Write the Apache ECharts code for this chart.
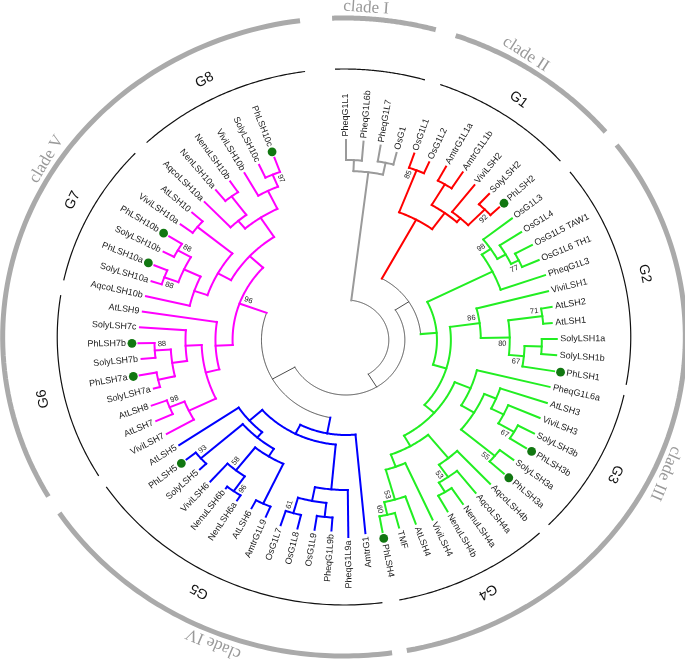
<!DOCTYPE html>
<html><head><meta charset="utf-8">
<script src="https://cdn.jsdelivr.net/npm/echarts@6/dist/echarts.min.js"></script>
<style>html,body{margin:0;padding:0;background:#fff}#c{width:685px;height:661px}</style>
</head><body><div id="c"></div>
<script>
// ---- leaves (clockwise from top) ----
const leafNames = ['PheqG1L1','PheqG1L6b','PheqG1L7','OsG1','OsG1L1','OsG1L2','AmtrG1L1a','AmtrG1L1b','ViviLSH2','SolyLSH2','PhLSH2','OsG1L3','OsG1L4','OsG1L5 TAW1','OsG1L6 TH1','PheqG1L3','ViviLSH1','AtLSH2','AtLSH1','SolyLSH1a','SolyLSH1b','PhLSH1','PheqG1L6a','AtLSH3','ViviLSH3','SolyLSH3b','PhLSH3b','SolyLSH3a','PhLSH3a','AqcoLSH4b','AqcoLSH4a','NenuLSH4a','NenuLSH4b','ViviLSH4','AtLSH4','TMF','PhLSH4','AmtrG1','PheqG1L9a','PheqG1L9b','OsG1L9','OsG1L8','OsG1L7','AmtrG1L9','AtLSH6','NenLSH6a','NenuLSH6b','ViviLSH6','SolyLSH5','PhLSH5','AtLSH5','ViviLSH7','AtLSH7','AtLSH8','SolyLSH7a','PhLSH7a','SolyLSH7b','PhLSH7b','SolyLSH7c','AtLSH9','AqcoLSH10b','SolyLSH10a','PhLSH10a','SolyLSH10b','PhLSH10b','ViviLSH10a','AtLSH10','AqcoLSH10a','NenLSH10a','NenuLSH10b','ViviLSH10b','SolyLSH10c','PhLSH10c'];
// tip distance from the centre (tree units)
const leafTip = [200,199,197,193,197,194,197,200,196,198,195, 197,196,198,197,197,195,195,193,197,197,197, 196,198,197,199,200,197,199,197,195,197,196,197,195,194,195, 194,197,191,192,194,195,192,190,190,186,190,188,191,188, 192,195,193,186,196,192,194,193,192, 192,191,194,192,195,193,192,191,193,192,192,193,194];
const markedLeaves = ['PhLSH2','PhLSH1','PhLSH3b','PhLSH3a','PhLSH4','PhLSH5','PhLSH7a','PhLSH7b','PhLSH10a','PhLSH10b','PhLSH10c'];
const rightSideLast = 36; // labels of leaves 0..36 read outward

// ---- internal nodes: [id, children, radius, bootstrap] ----
const nodesBackbone = [
  ['root',['gC','Z'],40,''],
  ['Z',['k1','k2'],55,''],
  ['k1',['r6','eR'],70,''],
  ['k2',['b13','m21'],79,'']
];
const nodesGray = [
  ['gA',['PheqG1L1','PheqG1L6b'],180,''],
  ['gB',['PheqG1L7','OsG1'],181,''],
  ['gC',['gA','gB'],169,'']
];
const nodesRed = [
  ['r1',['OsG1L1','OsG1L2'],182,'85'],
  ['r2',['AmtrG1L1a','AmtrG1L1b'],181,''],
  ['r3',['SolyLSH2','PhLSH2'],184,'92'],
  ['r4',['ViviLSH2','r3'],162,''],
  ['r5',['r2','r4'],157,''],
  ['r6',['r1','r5'],137,'']
];
const nodesGreen = [
  ['e1',['OsG1L5 TAW1','OsG1L6 TH1'],180,'77'],
  ['e2',['OsG1L4','e1'],172,''],
  ['e3',['OsG1L3','e2'],163,'98'],
  ['e4',['e3','PheqG1L3'],153,''],
  ['e5',['AtLSH2','AtLSH1'],185,'71'],
  ['e6',['SolyLSH1a','SolyLSH1b'],183,''],
  ['e7',['e6','PhLSH1'],167,'67'],
  ['e8',['e5','e7'],153,'80'],
  ['e9',['ViviLSH1','e8'],126,'86'],
  ['e11',['SolyLSH3b','PhLSH3b'],182,'67'],
  ['e12',['ViviLSH3','e11'],165,''],
  ['e13',['AtLSH3','e12'],152,''],
  ['e14',['SolyLSH3a','PhLSH3a'],181,'55'],
  ['e15',['e13','e14'],140,''],
  ['e16',['PheqG1L6a','e15'],126,''],
  ['e17',['NenuLSH4a','NenuLSH4b'],178,''],
  ['e18',['AqcoLSH4a','e17'],167,'53'],
  ['e19',['AqcoLSH4b','e18'],152,''],
  ['e20',['TMF','PhLSH4'],179,'60'],
  ['e21',['AtLSH4','e20'],166,'53'],
  ['e22',['ViviLSH4','e21'],135,''],
  ['e23',['e19','e22'],122,''],
  ['e24',['e16','e23'],110,''],
  ['Y',['e9','e24'],98,''],
  ['eR',['e4','Y'],85,'']
];
const nodesBlue = [
  ['b1',['OsG1L8','OsG1L7'],180,'61'],
  ['b2',['PheqG1L9b','OsG1L9'],178,''],
  ['b3',['b2','b1'],164,''],
  ['b4',['PheqG1L9a','b3'],150,''],
  ['b6',['NenLSH6a','NenuLSH6b'],184,'96'],
  ['b7',['b6','ViviLSH6'],166,'58'],
  ['b8',['AmtrG1L9','AtLSH6'],181,''],
  ['b9',['b8','b7'],137,''],
  ['b10',['SolyLSH5','PhLSH5'],180,'93'],
  ['b11',['b9','b10'],128,''],
  ['b12',['b11','AtLSH5'],121,''],
  ['X',['b4','b12'],105,''],
  ['b13',['AmtrG1','X'],95,'']
];
const nodesMagenta = [
  ['m1',['AtLSH7','AtLSH8'],178,'98'],
  ['m2',['ViviLSH7','m1'],163,''],
  ['m3',['SolyLSH7a','PhLSH7a'],180,''],
  ['m4',['SolyLSH7b','PhLSH7b'],179,'88'],
  ['m5',['m3','m4'],164,''],
  ['m6',['m5','SolyLSH7c'],150,''],
  ['m7',['m2','m6'],135,''],
  ['m8',['m7','AtLSH9'],122,''],
  ['m9',['SolyLSH10a','PhLSH10a'],181,'88'],
  ['m10',['SolyLSH10b','PhLSH10b'],181,'88'],
  ['m11',['m9','m10'],167,''],
  ['m12',['AqcoLSH10b','m11'],150,''],
  ['m13',['ViviLSH10a','AtLSH10'],179,''],
  ['m14',['m12','m13'],137,''],
  ['m15',['NenLSH10a','NenuLSH10b'],179,''],
  ['m16',['AqcoLSH10a','m15'],156,''],
  ['m17',['SolyLSH10c','PhLSH10c'],179,'97'],
  ['m18',['ViviLSH10b','m17'],166,''],
  ['m19',['m16','m18'],146,''],
  ['m20',['m14','m19'],123,''],
  ['m21',['m8','m20'],106,'96']
];
// ---- annotation rings: [label, start deg, end deg, label deg] (clockwise from top) ----
const groupArcs = [['',-1.8,16.4,0],['G1',19.6,49,34.5],['G2',52,100.3,77.3],['G3',102.5,134.5,118.4],['G4',137,168.9,152.2],['G5',172.3,236,208],['G6',238.8,279,257.6],['G7',282.2,313.3,298.3],['G8',316.5,352.2,333.1]];
const cladeArcs = [['clade I',-2,15.6,3.6],['clade II',19.1,50,31],['clade III',53,169.4,114.4],['clade IV',171.9,236.5,201.7],['clade V',240,352.6,302.6]];

// ---------------------------------------------------------------
const SX = 1.07; // the figure is wider than tall
const styles = [[nodesBackbone,'#4d4d4d',1],[nodesGray,'#9a9a9a',2],[nodesRed,'#ff0000',2],[nodesGreen,'#22ee22',2],[nodesBlue,'#0000ff',2],[nodesMagenta,'#ff00ff',2]];
const allNodes = [];
styles.forEach(([arr,color,w]) => arr.forEach(n => allNodes.push({id:n[0],kids:n[1],r:n[2],bs:n[3],color,w})));
const nodeById = {}; allNodes.forEach(n => nodeById[n.id] = n);
const leafIdx = {}; leafNames.forEach((n,i) => leafIdx[n] = i);
const parentOf = {}; allNodes.forEach(n => n.kids.forEach(k => parentOf[k] = n));
const posCache = {};
function pos(id){
  if (id in leafIdx) return leafIdx[id];
  if (posCache[id] != null) return posCache[id];
  const ps = nodeById[id].kids.map(pos);
  return posCache[id] = (Math.min(...ps) + Math.max(...ps)) / 2;
}
function rad(id){ return (id in leafIdx) ? leafTip[leafIdx[id]] : nodeById[id].r; }
function styleOf(id){ const n = nodeById[id] || parentOf[id]; return {color:n.color, w:n.w}; }
// library coordinate, widened horizontally about the polar centre
function P(api, r, a){ const c = api.coord([0, a]); const p = api.coord([r, a]); return [c[0] + SX*(p[0]-c[0]), p[1]]; }
function frame(api, r, a){
  const c = api.coord([0, a]); const p = P(api, r, a);
  const phi = Math.atan2(p[1]-c[1], p[0]-c[0]);
  return {p, phi, ux:Math.cos(phi), uy:Math.sin(phi)};
}

const branchSeries = {
  type:'custom', coordinateSystem:'polar', polarIndex:0, silent:true,
  data: allNodes.map((n,k) => [n.r, pos(n.id), k]),
  encode:{radius:0, angle:1},
  renderItem(params, api){
    const n = allNodes[params.dataIndex];
    const ps = n.kids.map(pos);
    const a1 = Math.min(...ps), a2 = Math.max(...ps);
    const ch = [];
    const pts = []; const N = Math.max(2, Math.ceil((a2-a1)*8));
    for (let t=0;t<=N;t++) pts.push(P(api, n.r, a1+(a2-a1)*t/N));
    ch.push({type:'polyline', shape:{points:pts}, style:{stroke:n.color, lineWidth:n.w, fill:null, lineCap:'square', lineJoin:'miter'}});
    n.kids.forEach(k => {
      const s = styleOf(k); const a = pos(k);
      const q1 = P(api, n.r, a), q2 = P(api, rad(k), a);
      ch.push({type:'line', shape:{x1:q1[0], y1:q1[1], x2:q2[0], y2:q2[1]}, style:{stroke:s.color, lineWidth:s.w, lineCap:'square'}});
    });
    if (n.bs) {
      const a = pos(n.id);
      const left = a > rightSideLast + 0.5;
      const par = parentOf[n.id];
      const sib = par.kids.map(pos);
      const cw = a >= Math.max(...sib) ? 1 : -1; // clockwise-most child -> label on clockwise side
      const f = frame(api, n.r - 7, a);
      const px = f.p[0] + cw*(-f.uy)*6, py = f.p[1] + cw*(f.ux)*6;
      ch.push({type:'text', x:px, y:py, rotation: left ? -(f.phi+Math.PI) : -f.phi, style:{text:n.bs, font:'7.5px "Liberation Sans", Arial', fill:'#222', align:'center', verticalAlign:'middle'}});
    }
    return {type:'group', children:ch};
  }
};

const labelSeries = {
  type:'custom', coordinateSystem:'polar', polarIndex:0, silent:true,
  data: leafNames.map((nm,i) => [leafTip[i], i]),
  encode:{radius:0, angle:1},
  renderItem(params, api){
    const i = params.dataIndex; const nm = leafNames[i];
    const left = i > rightSideLast;
    const marked = markedLeaves.includes(nm);
    const ch = [];
    const f0 = frame(api, leafTip[i], i);
    if (marked) {
      ch.push({type:'circle', shape:{cx:f0.p[0] + f0.ux*6.5, cy:f0.p[1] + f0.uy*6.5, r:4.4}, style:{fill:'#117711'}});
    }
    const g = marked ? 12.5 : 3.5;
    ch.push({type:'text', x:f0.p[0] + f0.ux*g, y:f0.p[1] + f0.uy*g, rotation: left ? -(f0.phi+Math.PI) : -f0.phi, style:{text:nm, font:'9px "Liberation Sans", Arial', fill:'#1a1a1a', align:left ? 'right' : 'left', verticalAlign:'middle'}});
    return {type:'group', children:ch};
  }
};

function ringSeries(arcs, r, color, width, labelR, font, labelColor){
  return {
    type:'custom', coordinateSystem:'polar', polarIndex:1, silent:true,
    data: arcs.map((a,k) => [r, (a[1]+a[2])/2, k]),
    encode:{radius:0, angle:1},
    renderItem(params, api){
      const a = arcs[params.dataIndex];
      const pts = []; const N = 80;
      for (let t=0;t<=N;t++) pts.push(P(api, r, a[1]+(a[2]-a[1])*t/N));
      const ch = [{type:'polyline', shape:{points:pts}, style:{stroke:color, lineWidth:width, fill:null}}];
      if (a[0]) {
        const f = frame(api, labelR, a[3]);
        ch.push({type:'text', x:f.p[0], y:f.p[1], rotation:-(f.phi + Math.PI/2), style:{text:a[0], font, fill:labelColor, align:'center', verticalAlign:'middle'}});
      }
      return {type:'group', children:ch};
    }
  };
}

const chart = echarts.init(document.getElementById('c'), null, {renderer:'canvas'});
chart.setOption({
  backgroundColor:'#ffffff',
  animation:false,
  polar:[{center:[346,340], radius:340}, {center:[344,337], radius:340}],
  angleAxis:[
    {polarIndex:0, type:'value', min:0, max:360/4.72, startAngle:90, clockwise:true, show:false},
    {polarIndex:1, type:'value', min:0, max:360, startAngle:90, clockwise:true, show:false}
  ],
  radiusAxis:[
    {polarIndex:0, type:'value', min:0, max:340, show:false},
    {polarIndex:1, type:'value', min:0, max:340, show:false}
  ],
  series:[
    branchSeries, labelSeries,
    ringSeries(groupArcs, 268, '#111', 1.2, 288, '14px "Liberation Sans", Arial', '#111'),
    ringSeries(cladeArcs, 319, '#aaaaaa', 5, 330, '17px "Liberation Serif", "Times New Roman", serif', '#999')
  ]
});
</script></body></html>
